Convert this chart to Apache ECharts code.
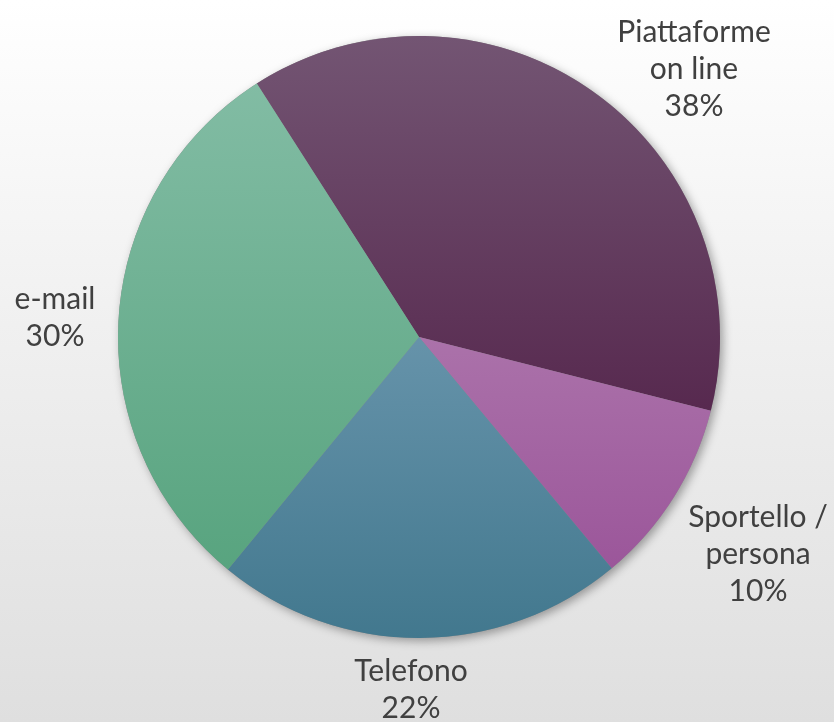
<!DOCTYPE html>
<html>
<head>
<meta charset="utf-8">
<script src="https://cdn.jsdelivr.net/npm/echarts@6/dist/echarts.min.js"></script>
<style>
  html, body { margin: 0; padding: 0; }
  #chart {
    width: 834px; height: 722px;
    background: linear-gradient(to bottom, #ffffff 0%, #f0f0f0 45%, #dfdfdf 100%);
  }
</style>
</head>
<body>
<div id="chart"></div>
<script>
// Canali di contatto (quote percentuali)
const categories = ['Piattaforme\non line', 'Sportello /\npersona', 'Telefono', 'e-mail'];
const shares = [38, 10, 22, 30];

// Colori delle fette: [alto, basso] del gradiente
const sliceColors = [
  ['#735573', '#57294f'],
  ['#ab72aa', '#9b569a'],
  ['#6693aa', '#42788e'],
  ['#82bca4', '#58a47f']
];

// Posizione delle etichette (centro del blocco di testo)
const labelPos = [
  [694, 69],
  [758, 554],
  [411, 690],
  [55, 318]
];

const chart = echarts.init(document.getElementById('chart'), null, { renderer: 'canvas' });

const pieData = categories.map((name, i) => ({
  name: name,
  value: shares[i],
  itemStyle: {
    color: {
      type: 'linear', x: 0, y: 0, x2: 0, y2: 1,
      colorStops: [
        { offset: 0, color: sliceColors[i][0] },
        { offset: 1, color: sliceColors[i][1] }
      ]
    }
  }
}));

chart.setOption({
  animation: false,
  series: [
    {
      // ombra del disco sotto le fette
      type: 'pie',
      center: [419, 337],
      radius: 301,
      silent: true,
      z: 1,
      label: { show: false },
      labelLine: { show: false },
      data: [{
        value: 1,
        itemStyle: {
          color: '#888',
          shadowColor: 'rgba(0,0,0,0.35)',
          shadowBlur: 10,
          shadowOffsetX: 3,
          shadowOffsetY: 3
        }
      }]
    },
    {
      type: 'pie',
      center: [419, 337],
      radius: 301,
      startAngle: 122.6,
      clockwise: true,
      z: 2,
      itemStyle: { borderWidth: 0 },
      label: {
        show: true,
        position: 'outside',
        formatter: p => p.name + '\n' + p.value + '%',
        fontFamily: 'Lato',
        fontSize: 30,
        lineHeight: 37,
        color: '#404040',
        align: 'center',
        overflow: 'none',
        width: 300
      },
      labelLine: { show: false },
      labelLayout: params => {
        const pos = labelPos[params.dataIndex];
        return { x: pos[0], y: pos[1], align: 'center', verticalAlign: 'middle' };
      },
      data: pieData
    }
  ]
});
</script>
</body>
</html>
